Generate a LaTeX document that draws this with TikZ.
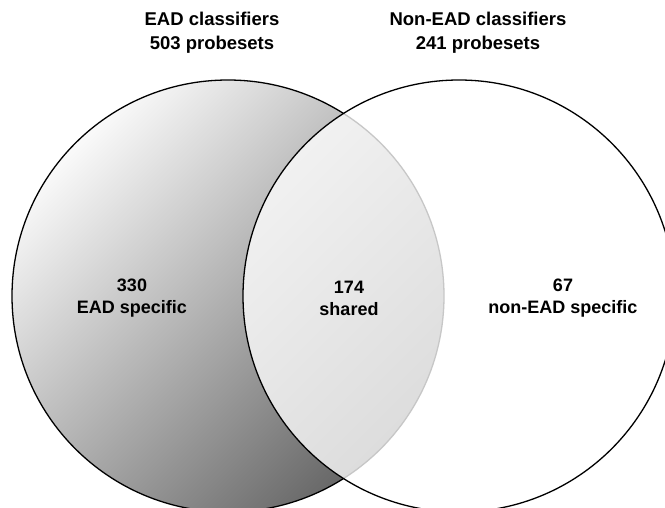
\documentclass[tikz,border=0pt]{standalone}
\usepackage{fontspec}
\setmainfont{Liberation Sans}
\begin{document}
\begin{tikzpicture}[x=1pt,y=1pt,line cap=round,
	setline/.style={line width=1.3pt,black},
	toplbl/.style={font=\bfseries\fontsize{18.5}{24}\selectfont,align=center},
	midlbl/.style={font=\bfseries\fontsize{18}{22}\selectfont,align=center}]
		\useasboundingbox (0,0) rectangle (665,507);
		\coordinate (ead) at (228,211);
		\coordinate (non) at (459,211);
		\shade[top color=black!2,bottom color=black!60,shading angle=45] (ead) circle (216);
		\draw[setline] (ead) circle (216);
		\fill[white,opacity=0.78] (non) circle (216);
		\draw[setline] (non) circle (216);
		\node[toplbl] (eadtitle) at (212,474) {EAD classifiers\\503 probesets};
		\node[toplbl] (nontitle) at (478,474) {Non-EAD classifiers\\241 probesets};
		\node[midlbl] (eadonly) at (132,209) {330\\EAD specific};
		\node[midlbl] (shared) at (349,209) {174\\shared};
		\node[midlbl] (nononly) at (563,209) {67\\non-EAD specific};
	\end{tikzpicture}
\end{document}
